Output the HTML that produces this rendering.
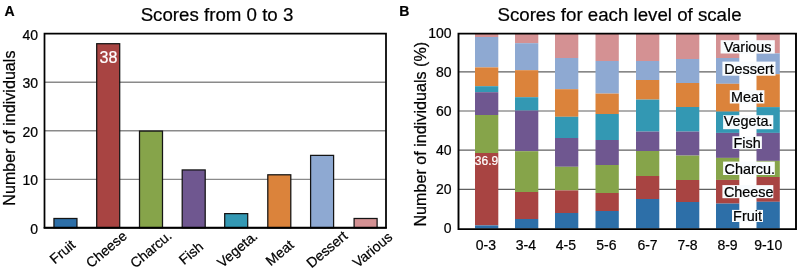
<!DOCTYPE html><html><head><meta charset="utf-8"><style>html,body{margin:0;padding:0;background:#fff;}svg{display:block;will-change:transform} text{font-family:"Liberation Sans", sans-serif;stroke:#000;stroke-width:0.22px} text.w{stroke:#fff}</style></head><body>
<svg width="800" height="271" viewBox="0 0 800 271">
<text x="4.5" y="15.7" font-size="14" font-weight="bold">A</text>
<text x="399.3" y="15.8" font-size="14" font-weight="bold">B</text>
<text x="217" y="20.8" font-size="18.7" text-anchor="middle">Scores from 0 to 3</text>
<text x="619.5" y="20.8" font-size="18.7" text-anchor="middle">Scores for each level of scale</text>
<line x1="44.5" x2="386" y1="179.35" y2="179.35" stroke="#8a8a8a" stroke-width="1.4"/>
<line x1="44.5" x2="386" y1="130.8" y2="130.8" stroke="#8a8a8a" stroke-width="1.4"/>
<line x1="44.5" x2="386" y1="82.25" y2="82.25" stroke="#8a8a8a" stroke-width="1.4"/>
<rect x="53.95" y="218.49" width="23" height="9.21" fill="#2D6FA8" stroke="#141414" stroke-width="1.25"/>
<rect x="96.70" y="43.71" width="23" height="183.99" fill="#A84442" stroke="#141414" stroke-width="1.25"/>
<rect x="139.50" y="131.10" width="23" height="96.60" fill="#86A44A" stroke="#141414" stroke-width="1.25"/>
<rect x="182.20" y="169.94" width="23" height="57.76" fill="#6F5790" stroke="#141414" stroke-width="1.25"/>
<rect x="224.70" y="213.63" width="23" height="14.06" fill="#3398B3" stroke="#141414" stroke-width="1.25"/>
<rect x="267.80" y="174.79" width="23" height="52.91" fill="#DB833B" stroke="#141414" stroke-width="1.25"/>
<rect x="310.60" y="155.38" width="23" height="72.32" fill="#8EA9D2" stroke="#141414" stroke-width="1.25"/>
<rect x="354.10" y="218.49" width="23" height="9.21" fill="#D49193" stroke="#141414" stroke-width="1.25"/>
<text x="108.5" y="62.6" font-size="16" fill="#fff" class="w" text-anchor="middle">38</text>
<path d="M44.5 33.5 H386 V227.7 H44.5 Z" fill="none" stroke="#000" stroke-width="1.75"/>
<line x1="43.7" x2="386.8" y1="227.95" y2="227.95" stroke="#000" stroke-width="1.8"/>
<text x="38.1" y="233.79999999999998" font-size="14" text-anchor="end">0</text>
<text x="38.1" y="185.29999999999998" font-size="14" text-anchor="end">10</text>
<text x="38.1" y="136.79999999999998" font-size="14" text-anchor="end">20</text>
<text x="38.1" y="88.29999999999998" font-size="14" text-anchor="end">30</text>
<text x="38.1" y="39.79999999999999" font-size="14" text-anchor="end">40</text>
<text transform="translate(14.8,128.1) rotate(-90)" font-size="16.15" text-anchor="middle">Number of individuals</text>
<text transform="translate(76.3,246.6) rotate(-40)" font-size="14" text-anchor="end">Fruit</text>
<text transform="translate(127.9,237.4) rotate(-40)" font-size="14" text-anchor="end">Cheese</text>
<text transform="translate(172.8,237.3) rotate(-40)" font-size="14" text-anchor="end">Charcu.</text>
<text transform="translate(204.3,248.2) rotate(-40)" font-size="14" text-anchor="end">Fish</text>
<text transform="translate(258.6,237.6) rotate(-40)" font-size="14" text-anchor="end">Vegeta.</text>
<text transform="translate(294.7,246.6) rotate(-40)" font-size="14" text-anchor="end">Meat</text>
<text transform="translate(348.4,237.6) rotate(-40)" font-size="14" text-anchor="end">Dessert</text>
<text transform="translate(393.3,238.4) rotate(-40)" font-size="14" text-anchor="end">Various</text>
<line x1="458.5" x2="796" y1="189.39999999999998" y2="189.39999999999998" stroke="#606060" stroke-width="1.2"/>
<line x1="458.5" x2="796" y1="150.2" y2="150.2" stroke="#606060" stroke-width="1.2"/>
<line x1="458.5" x2="796" y1="111.0" y2="111.0" stroke="#606060" stroke-width="1.2"/>
<line x1="458.5" x2="796" y1="71.79999999999998" y2="71.79999999999998" stroke="#606060" stroke-width="1.2"/>
<rect x="475.00" y="33.5" width="23.3" height="3.50" fill="#D49193"/>
<rect x="475.00" y="37" width="23.3" height="30.40" fill="#8EA9D2"/>
<rect x="475.00" y="67.4" width="23.3" height="18.80" fill="#DB833B"/>
<rect x="475.00" y="86.2" width="23.3" height="6.00" fill="#3398B3"/>
<rect x="475.00" y="92.2" width="23.3" height="22.80" fill="#6F5790"/>
<rect x="475.00" y="115" width="23.3" height="38.00" fill="#86A44A"/>
<rect x="475.00" y="153" width="23.3" height="72.40" fill="#A84442"/>
<rect x="475.00" y="225.4" width="23.3" height="3.10" fill="#2D6FA8"/>
<rect x="515.00" y="33.5" width="23.3" height="9.70" fill="#D49193"/>
<rect x="515.00" y="43.2" width="23.3" height="27.00" fill="#8EA9D2"/>
<rect x="515.00" y="70.2" width="23.3" height="27.00" fill="#DB833B"/>
<rect x="515.00" y="97.2" width="23.3" height="13.40" fill="#3398B3"/>
<rect x="515.00" y="110.6" width="23.3" height="40.60" fill="#6F5790"/>
<rect x="515.00" y="151.2" width="23.3" height="40.80" fill="#86A44A"/>
<rect x="515.00" y="192" width="23.3" height="27.00" fill="#A84442"/>
<rect x="515.00" y="219" width="23.3" height="9.50" fill="#2D6FA8"/>
<rect x="555.00" y="33.5" width="23.3" height="24.50" fill="#D49193"/>
<rect x="555.00" y="58" width="23.3" height="31.20" fill="#8EA9D2"/>
<rect x="555.00" y="89.2" width="23.3" height="27.60" fill="#DB833B"/>
<rect x="555.00" y="116.8" width="23.3" height="21.20" fill="#3398B3"/>
<rect x="555.00" y="138" width="23.3" height="28.80" fill="#6F5790"/>
<rect x="555.00" y="166.8" width="23.3" height="23.60" fill="#86A44A"/>
<rect x="555.00" y="190.4" width="23.3" height="22.60" fill="#A84442"/>
<rect x="555.00" y="213" width="23.3" height="15.50" fill="#2D6FA8"/>
<rect x="595.50" y="33.5" width="23.3" height="27.50" fill="#D49193"/>
<rect x="595.50" y="61" width="23.3" height="32.60" fill="#8EA9D2"/>
<rect x="595.50" y="93.6" width="23.3" height="20.40" fill="#DB833B"/>
<rect x="595.50" y="114" width="23.3" height="26.00" fill="#3398B3"/>
<rect x="595.50" y="140" width="23.3" height="25.00" fill="#6F5790"/>
<rect x="595.50" y="165" width="23.3" height="28.00" fill="#86A44A"/>
<rect x="595.50" y="193" width="23.3" height="18.00" fill="#A84442"/>
<rect x="595.50" y="211" width="23.3" height="17.50" fill="#2D6FA8"/>
<rect x="636.00" y="33.5" width="23.3" height="27.50" fill="#D49193"/>
<rect x="636.00" y="61" width="23.3" height="19.00" fill="#8EA9D2"/>
<rect x="636.00" y="80" width="23.3" height="19.60" fill="#DB833B"/>
<rect x="636.00" y="99.6" width="23.3" height="32.00" fill="#3398B3"/>
<rect x="636.00" y="131.6" width="23.3" height="19.40" fill="#6F5790"/>
<rect x="636.00" y="151" width="23.3" height="25.00" fill="#86A44A"/>
<rect x="636.00" y="176" width="23.3" height="23.00" fill="#A84442"/>
<rect x="636.00" y="199" width="23.3" height="29.50" fill="#2D6FA8"/>
<rect x="676.00" y="33.5" width="23.3" height="25.50" fill="#D49193"/>
<rect x="676.00" y="59" width="23.3" height="24.00" fill="#8EA9D2"/>
<rect x="676.00" y="83" width="23.3" height="24.00" fill="#DB833B"/>
<rect x="676.00" y="107" width="23.3" height="24.60" fill="#3398B3"/>
<rect x="676.00" y="131.6" width="23.3" height="24.00" fill="#6F5790"/>
<rect x="676.00" y="155.6" width="23.3" height="24.40" fill="#86A44A"/>
<rect x="676.00" y="180" width="23.3" height="22.00" fill="#A84442"/>
<rect x="676.00" y="202" width="23.3" height="26.50" fill="#2D6FA8"/>
<rect x="716.00" y="33.5" width="23.3" height="24.50" fill="#D49193"/>
<rect x="716.00" y="58" width="23.3" height="25.80" fill="#8EA9D2"/>
<rect x="716.00" y="83.8" width="23.3" height="27.80" fill="#DB833B"/>
<rect x="716.00" y="111.6" width="23.3" height="21.30" fill="#3398B3"/>
<rect x="716.00" y="132.9" width="23.3" height="25.00" fill="#6F5790"/>
<rect x="716.00" y="157.9" width="23.3" height="22.00" fill="#86A44A"/>
<rect x="716.00" y="179.9" width="23.3" height="23.70" fill="#A84442"/>
<rect x="716.00" y="203.6" width="23.3" height="24.90" fill="#2D6FA8"/>
<rect x="756.50" y="33.5" width="23.3" height="19.90" fill="#D49193"/>
<rect x="756.50" y="53.4" width="23.3" height="20.80" fill="#8EA9D2"/>
<rect x="756.50" y="74.2" width="23.3" height="32.90" fill="#DB833B"/>
<rect x="756.50" y="107.1" width="23.3" height="25.80" fill="#3398B3"/>
<rect x="756.50" y="132.9" width="23.3" height="28.00" fill="#6F5790"/>
<rect x="756.50" y="160.9" width="23.3" height="16.10" fill="#86A44A"/>
<rect x="756.50" y="177" width="23.3" height="24.80" fill="#A84442"/>
<rect x="756.50" y="201.8" width="23.3" height="26.70" fill="#2D6FA8"/>
<text x="486.5" y="164.8" font-size="12" fill="#fff" class="w" text-anchor="middle">36.9</text>
<path d="M458.5 33.6 H796 V229.15 H458.5 Z" fill="none" stroke="#000" stroke-width="1.9"/>
<text x="451.5" y="233.0" font-size="14" text-anchor="end">0</text>
<text x="451.5" y="194.0" font-size="14" text-anchor="end">20</text>
<text x="451.5" y="155.0" font-size="14" text-anchor="end">40</text>
<text x="451.5" y="116.0" font-size="14" text-anchor="end">60</text>
<text x="451.5" y="77.0" font-size="14" text-anchor="end">80</text>
<text x="451.5" y="38.0" font-size="14" text-anchor="end">100</text>
<text transform="translate(426,134.2) rotate(-90)" font-size="16.15" text-anchor="middle">Number of individuals (%)</text>
<text x="485.9" y="250" font-size="14" text-anchor="middle">0-3</text>
<text x="525.9" y="250" font-size="14" text-anchor="middle">3-4</text>
<text x="565.9" y="250" font-size="14" text-anchor="middle">4-5</text>
<text x="606.4" y="250" font-size="14" text-anchor="middle">5-6</text>
<text x="647.5" y="250" font-size="14" text-anchor="middle">6-7</text>
<text x="687.5" y="250" font-size="14" text-anchor="middle">7-8</text>
<text x="727.5" y="250" font-size="14" text-anchor="middle">8-9</text>
<text x="768.2" y="250" font-size="14" text-anchor="middle">9-10</text>
<rect x="720.6" y="40.2" width="54.2" height="13.3" fill="#f8fbfd"/>
<text x="747.7" y="51.5" font-size="14.4" text-anchor="middle">Various</text>
<rect x="722.4" y="61.6" width="53.1" height="14.1" fill="#f8fbfd"/>
<text x="749.0" y="74.3" font-size="14.4" text-anchor="middle">Dessert</text>
<rect x="729.8" y="90.2" width="34.6" height="13.3" fill="#f8fbfd"/>
<text x="747.1" y="101.6" font-size="14.4" text-anchor="middle">Meat</text>
<rect x="723.1" y="115.2" width="50.2" height="14.0" fill="#f8fbfd"/>
<text x="748.2" y="126.2" font-size="14.4" text-anchor="middle">Vegeta.</text>
<rect x="732.4" y="136.3" width="29.5" height="12.7" fill="#f8fbfd"/>
<text x="747.1" y="147.8" font-size="14.4" text-anchor="middle">Fish</text>
<rect x="723.1" y="161.6" width="51.7" height="13.4" fill="#f8fbfd"/>
<text x="749.7" y="174.0" font-size="14.4" text-anchor="middle">Charcu.</text>
<rect x="722.4" y="185.1" width="50.9" height="13.1" fill="#f8fbfd"/>
<text x="748.7" y="197.0" font-size="14.4" text-anchor="middle">Cheese</text>
<rect x="732" y="209.9" width="31.0" height="12.1" fill="#f8fbfd"/>
<text x="747.5" y="221.0" font-size="14.4" text-anchor="middle">Fruit</text>
</svg></body></html>
